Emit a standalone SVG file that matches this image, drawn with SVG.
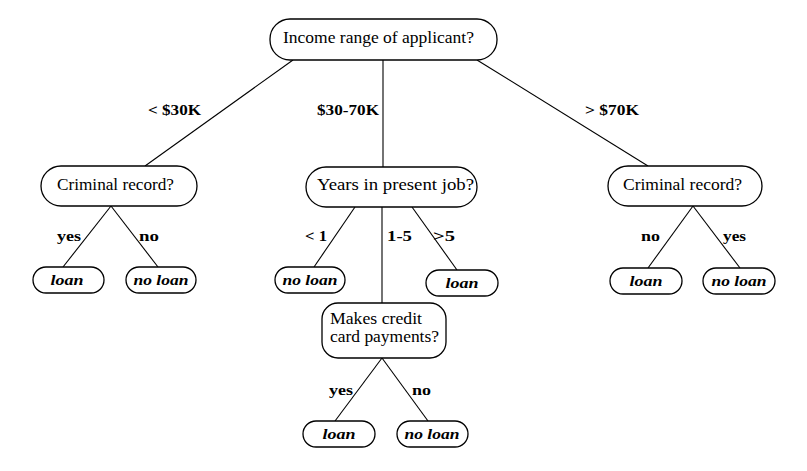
<svg xmlns="http://www.w3.org/2000/svg" width="807" height="471" viewBox="0 0 807 471">
<style>
.box{fill:#fff;stroke:#000;stroke-width:1.3}
.leaf{fill:#fff;stroke:#000;stroke-width:1.3}
.q{font-family:"Liberation Serif",serif;font-size:16px;fill:#000}
.lbl{font-family:"Liberation Serif",serif;font-size:15px;font-weight:bold;fill:#000}
.lt{font-family:"Liberation Serif",serif;font-size:15px;font-weight:bold;font-style:italic;fill:#000;text-anchor:middle}
.edge{stroke:#000;stroke-width:1.1;fill:none}
</style>
<rect width="807" height="471" fill="#fff"/>
<g id="connectors">
<line class="edge" x1="293" y1="60" x2="145" y2="166"/>
<line class="edge" x1="383" y1="60" x2="383" y2="167"/>
<line class="edge" x1="477" y1="60" x2="648" y2="166"/>
<line class="edge" x1="111" y1="206" x2="63" y2="267"/>
<line class="edge" x1="111" y1="206" x2="158" y2="267"/>
<line class="edge" x1="355" y1="207" x2="314" y2="267"/>
<line class="edge" x1="382" y1="207" x2="382" y2="303"/>
<line class="edge" x1="412" y1="207" x2="457" y2="270"/>
<line class="edge" x1="693" y1="206" x2="648" y2="268"/>
<line class="edge" x1="693" y1="206" x2="740" y2="268"/>
<line class="edge" x1="382" y1="358" x2="335" y2="421"/>
<line class="edge" x1="382" y1="358" x2="428" y2="421"/>
<g id="edge-labels">
<text class="lbl" x="148" y="115" textLength="53" lengthAdjust="spacingAndGlyphs">&lt; $30K</text>
<text class="lbl" x="317" y="115" textLength="62" lengthAdjust="spacingAndGlyphs">$30-70K</text>
<text class="lbl" x="585" y="115" textLength="54" lengthAdjust="spacingAndGlyphs">&gt; $70K</text>
<text class="lbl" x="57" y="241" textLength="24" lengthAdjust="spacingAndGlyphs">yes</text>
<text class="lbl" x="139" y="241" textLength="20" lengthAdjust="spacingAndGlyphs">no</text>
<text class="lbl" x="305" y="241" textLength="22" lengthAdjust="spacingAndGlyphs">&lt; 1</text>
<text class="lbl" x="387" y="241" textLength="25" lengthAdjust="spacingAndGlyphs">1-5</text>
<text class="lbl" x="433" y="241" textLength="22" lengthAdjust="spacingAndGlyphs">&gt;5</text>
<text class="lbl" x="641" y="241" textLength="19" lengthAdjust="spacingAndGlyphs">no</text>
<text class="lbl" x="723" y="241" textLength="23" lengthAdjust="spacingAndGlyphs">yes</text>
<text class="lbl" x="329" y="395" textLength="24" lengthAdjust="spacingAndGlyphs">yes</text>
<text class="lbl" x="412" y="395" textLength="19" lengthAdjust="spacingAndGlyphs">no</text>
</g>
</g>
<g id="root">
<rect class="box" x="270" y="19" width="227" height="41" rx="20"/>
<text class="q" x="283" y="43" textLength="191" lengthAdjust="spacingAndGlyphs">Income range of applicant?</text>
</g>
<g id="crim-left">
<rect class="box" x="41" y="166" width="156" height="40" rx="20"/>
<text class="q" x="57" y="190" textLength="117" lengthAdjust="spacingAndGlyphs">Criminal record?</text>
</g>
<g id="years">
<rect class="box" x="306" y="167" width="171" height="40" rx="20"/>
<text class="q" x="317" y="190" textLength="157" lengthAdjust="spacingAndGlyphs">Years in present job?</text>
</g>
<g id="crim-right">
<rect class="box" x="608" y="166" width="154" height="40" rx="20"/>
<text class="q" x="623" y="190" textLength="119" lengthAdjust="spacingAndGlyphs">Criminal record?</text>
</g>
<g id="credit">
<rect class="box" x="322" y="303" width="124" height="55" rx="16"/>
<text class="q" x="330" y="324" textLength="92" lengthAdjust="spacingAndGlyphs">Makes credit</text>
<text class="q" x="330" y="342" textLength="109" lengthAdjust="spacingAndGlyphs">card payments?</text>
</g>
<g id="leaf1">
<rect class="leaf" x="33" y="267" width="71" height="26" rx="13"/>
<text class="lt" x="67" y="285" textLength="33" lengthAdjust="spacingAndGlyphs">loan</text>
</g>
<g id="leaf2">
<rect class="leaf" x="126" y="267" width="70" height="26" rx="13"/>
<text class="lt" x="161" y="285" textLength="55" lengthAdjust="spacingAndGlyphs">no loan</text>
</g>
<g id="leaf3">
<rect class="leaf" x="275" y="267" width="70" height="26" rx="13"/>
<text class="lt" x="310" y="285" textLength="55" lengthAdjust="spacingAndGlyphs">no loan</text>
</g>
<g id="leaf4">
<rect class="leaf" x="426" y="270" width="72" height="26" rx="13"/>
<text class="lt" x="462" y="288" textLength="33" lengthAdjust="spacingAndGlyphs">loan</text>
</g>
<g id="leaf5">
<rect class="leaf" x="610" y="268" width="72" height="26" rx="13"/>
<text class="lt" x="646" y="286" textLength="33" lengthAdjust="spacingAndGlyphs">loan</text>
</g>
<g id="leaf6">
<rect class="leaf" x="703" y="268" width="72" height="26" rx="13"/>
<text class="lt" x="739" y="286" textLength="55" lengthAdjust="spacingAndGlyphs">no loan</text>
</g>
<g id="leaf7">
<rect class="leaf" x="303" y="421" width="72" height="26" rx="13"/>
<text class="lt" x="339" y="439" textLength="33" lengthAdjust="spacingAndGlyphs">loan</text>
</g>
<g id="leaf8">
<rect class="leaf" x="397" y="421" width="71" height="26" rx="13"/>
<text class="lt" x="432" y="439" textLength="55" lengthAdjust="spacingAndGlyphs">no loan</text>
</g>
</svg>
